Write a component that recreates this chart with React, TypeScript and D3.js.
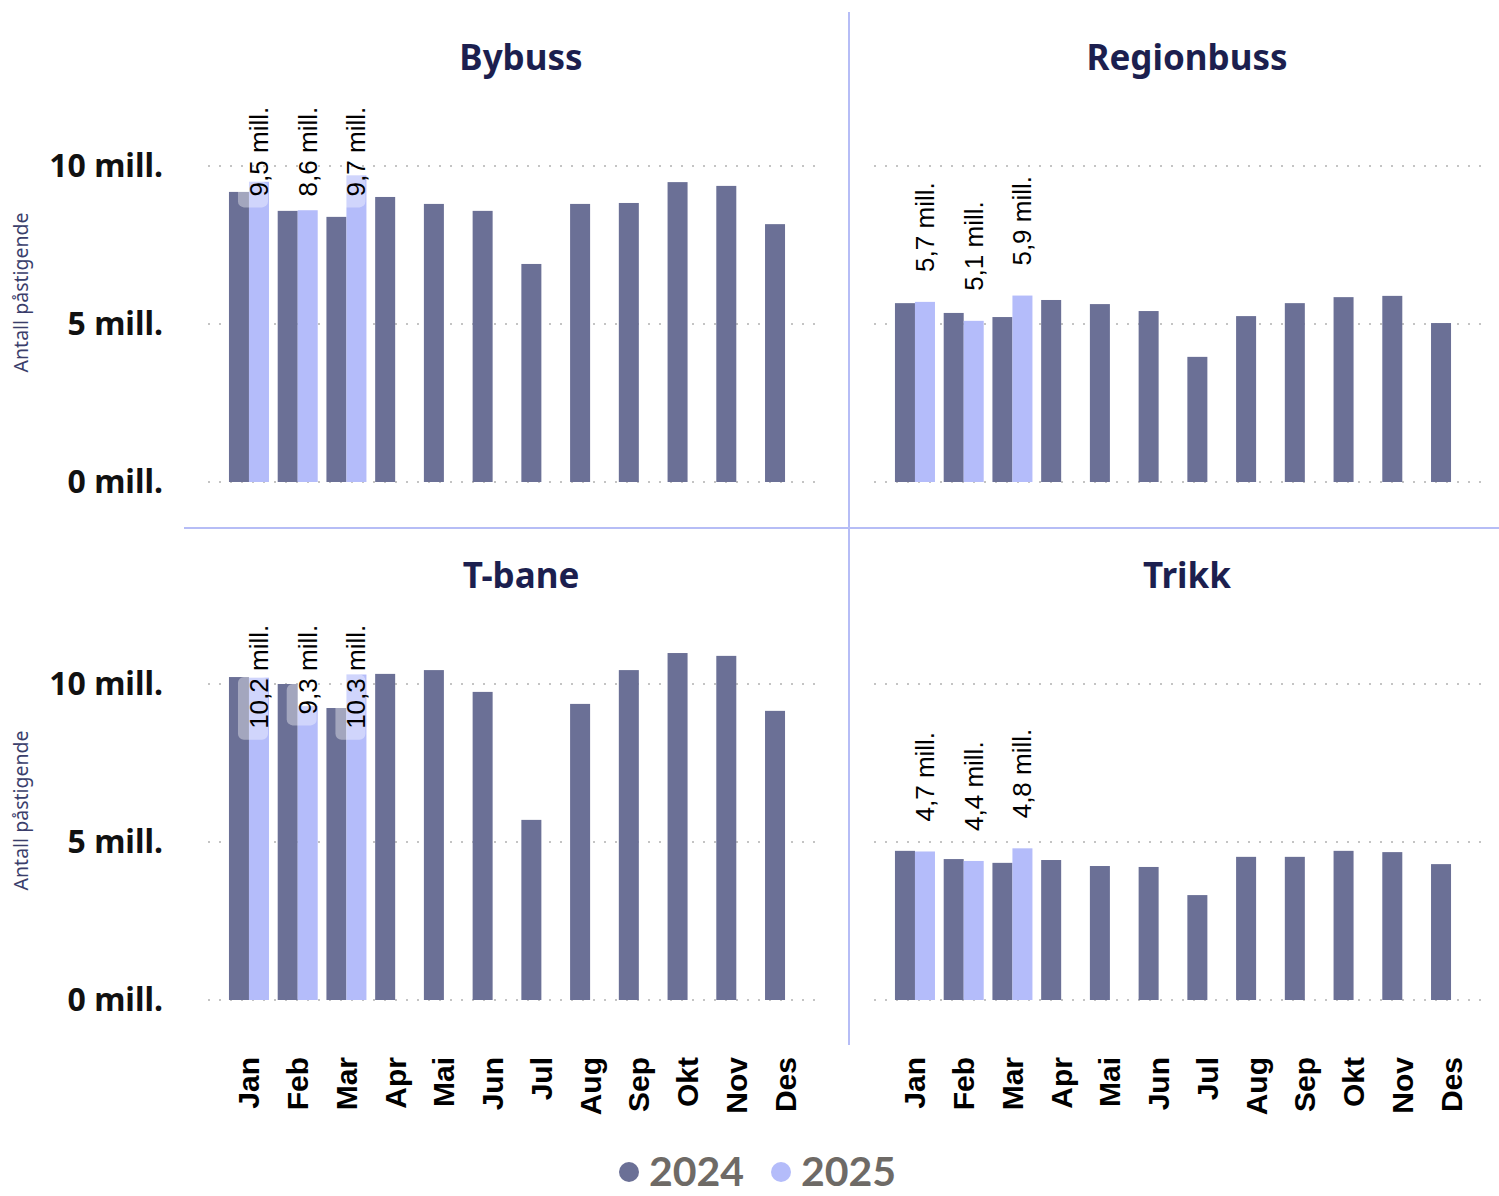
import React, { useRef, useEffect } from 'react';
import * as d3 from 'd3';

const months = ['Jan', 'Feb', 'Mar', 'Apr', 'Mai', 'Jun', 'Jul', 'Aug', 'Sep', 'Okt', 'Nov', 'Des'];
const seriesNames = ['2024', '2025'];
const yTicks = [0, 5, 10];

const bybuss2024 = [9.18, 8.58, 8.39, 9.02, 8.8, 8.58, 6.9, 8.8, 8.83, 9.49, 9.37, 8.16];
const bybuss2025 = [9.5, 8.6, 9.7];
const regionbuss2024 = [5.66, 5.35, 5.22, 5.76, 5.63, 5.41, 3.96, 5.25, 5.66, 5.85, 5.89, 5.03];
const regionbuss2025 = [5.7, 5.1, 5.9];
const tbane2024 = [10.22, 10.0, 9.24, 10.32, 10.44, 9.75, 5.7, 9.37, 10.44, 10.98, 10.89, 9.15];
const tbane2025 = [10.2, 9.3, 10.3];
const trikk2024 = [4.72, 4.46, 4.34, 4.43, 4.24, 4.21, 3.32, 4.53, 4.53, 4.72, 4.68, 4.3];
const trikk2025 = [4.7, 4.4, 4.8];

const panels = [
  { title: 'Bybuss', v2024: bybuss2024, v2025: bybuss2025, col: 0, row: 0 },
  { title: 'Regionbuss', v2024: regionbuss2024, v2025: regionbuss2025, col: 1, row: 0 },
  { title: 'T-bane', v2024: tbane2024, v2025: tbane2025, col: 0, row: 1 },
  { title: 'Trikk', v2024: trikk2024, v2025: trikk2025, col: 1, row: 1 },
];

const colors = { '2024': '#6b7096', '2025': '#b4bcfa' };
const fmt = (v: number) => `${d3.format('.1f')(v).replace('.', ',')} mill.`;

const App = () => {
  const ref = useRef<SVGSVGElement>(null);

  useEffect(() => {
    if (!ref.current) return;
    const svg = d3.select(ref.current);
    svg.selectAll('*').remove();

    const colShift = 666;
    const rowShift = 518;

    // separators
    svg.append('line').attr('x1', 849).attr('x2', 849).attr('y1', 12).attr('y2', 1045)
      .attr('stroke', '#b6bdf6').attr('stroke-width', 2);
    svg.append('line').attr('x1', 184).attr('x2', 1499).attr('y1', 528).attr('y2', 528)
      .attr('stroke', '#b6bdf6').attr('stroke-width', 2);

    panels.forEach(p => {
      const dx = p.col * colShift;
      const dy = p.row * rowShift;
      const g = svg.append('g');

      const x = d3.scaleBand<string>()
        .domain(months)
        .range([224.6 + dx, 809.4 + dx])
        .paddingInner(0.179)
        .paddingOuter(0.0895);
      const xs = d3.scaleBand<string>().domain(seriesNames).range([0, x.bandwidth()]);
      const y = d3.scaleLinear().domain([0, 12]).range([482 + dy, 102.8 + dy]);

      // title
      g.append('text')
        .attr('x', 521 + dx).attr('y', 70 + dy)
        .attr('text-anchor', 'middle')
        .style('font-family', '"Noto Sans", sans-serif')
        .style('font-weight', 700).style('font-size', '35px')
        .attr('fill', '#1c1f4f')
        .text(p.title);

      // gridlines
      g.selectAll('.grid').data(yTicks).enter().append('line')
        .attr('x1', 208 + dx).attr('x2', 822 + dx)
        .attr('y1', d => y(d)).attr('y2', d => y(d))
        .attr('stroke', '#c4c4c4').attr('stroke-width', 2)
        .attr('stroke-dasharray', '2,9');

      if (p.col === 0) {
        g.selectAll('.tick').data(yTicks).enter().append('text')
          .attr('x', 163).attr('y', d => y(d) + 11)
          .attr('text-anchor', 'end')
          .style('font-family', '"Noto Sans", sans-serif')
          .style('font-weight', 700).style('font-size', '32px')
          .attr('fill', '#111')
          .text(d => `${d} mill.`);

        const cy = (y(0) + y(12)) / 2;
        g.append('text')
          .attr('transform', `translate(28, ${cy}) rotate(-90)`)
          .attr('text-anchor', 'middle')
          .style('font-family', '"Noto Sans", sans-serif')
          .style('font-size', '19.5px')
          .attr('fill', '#3a3e6b')
          .text('Antall påstigende');
      }

      const rows = months.map((m, i) => ({ m, a: p.v2024[i], b: p.v2025[i] }));

      // bars 2024
      g.selectAll('.b24').data(rows).enter().append('rect')
        .attr('x', d => x(d.m)! + xs('2024')!)
        .attr('width', xs.bandwidth())
        .attr('y', d => y(d.a))
        .attr('height', d => y(0) - y(d.a))
        .attr('fill', colors['2024']);

      const rows25 = rows.filter(d => d.b !== undefined);
      g.selectAll('.b25').data(rows25).enter().append('rect')
        .attr('x', d => x(d.m)! + xs('2025')!)
        .attr('width', xs.bandwidth())
        .attr('y', d => y(d.b))
        .attr('height', d => y(0) - y(d.b))
        .attr('fill', colors['2025']);

      // data labels for 2025
      const plotTop = y(12);
      rows25.forEach(d => {
        const cx = x(d.m)! + xs('2025')! + xs.bandwidth() / 2;
        const barTop = y(d.b);
        const boxG = g.append('g');
        const t = g.append('text')
          .attr('text-anchor', 'start')
          .attr('dominant-baseline', 'central')
          .style('font-family', '"Liberation Sans", Arial, sans-serif')
          .style('font-size', '26px')
          .attr('fill', '#000')
          .text(fmt(d.b));
        const len = (t.node() as SVGTextElement).getComputedTextLength();
        let start = barTop - 30;
        if (start - len < plotTop) start = plotTop + len + 4;
        t.attr('transform', `translate(${cx}, ${start}) rotate(-90)`);
        const boxTop = Math.min(barTop, y(d.a));
        const boxBottom = start + 11;
        if (boxBottom > boxTop) {
          boxG.append('rect')
            .attr('x', cx - 21).attr('width', 30)
            .attr('y', boxTop).attr('height', boxBottom - boxTop)
            .attr('rx', 6)
            .attr('fill', '#fff').attr('fill-opacity', 0.38);
        }
      });

      // month labels
      if (p.row === 1) {
        g.selectAll('.xl').data(months).enter().append('text')
          .attr('transform', d => `translate(${x(d)! + x.bandwidth() / 2}, 1057) rotate(-90)`)
          .attr('text-anchor', 'end')
          .attr('dominant-baseline', 'central')
          .style('font-family', '"Liberation Sans", Arial, sans-serif')
          .style('font-weight', 700).style('font-size', '30px')
          .attr('fill', '#000')
          .text(d => d);
      }
    });

    // legend
    const legend = svg.append('g');
    const legendX = [629, 781];
    seriesNames.forEach((s, i) => {
      legend.append('circle').attr('cx', legendX[i]).attr('cy', 1172).attr('r', 10)
        .attr('fill', colors[s as '2024' | '2025']);
      legend.append('text').attr('x', legendX[i] + 20).attr('y', 1186)
        .style('font-family', 'Lato, sans-serif')
        .style('font-weight', 700).style('font-size', '41px')
        .attr('fill', '#6e6a66')
        .text(s);
    });
  }, []);

  return (
    <svg ref={ref} width={1499} height={1196}
      style={{ position: 'absolute', left: 0, top: 0, background: '#fff' }} />
  );
};

export default App;
